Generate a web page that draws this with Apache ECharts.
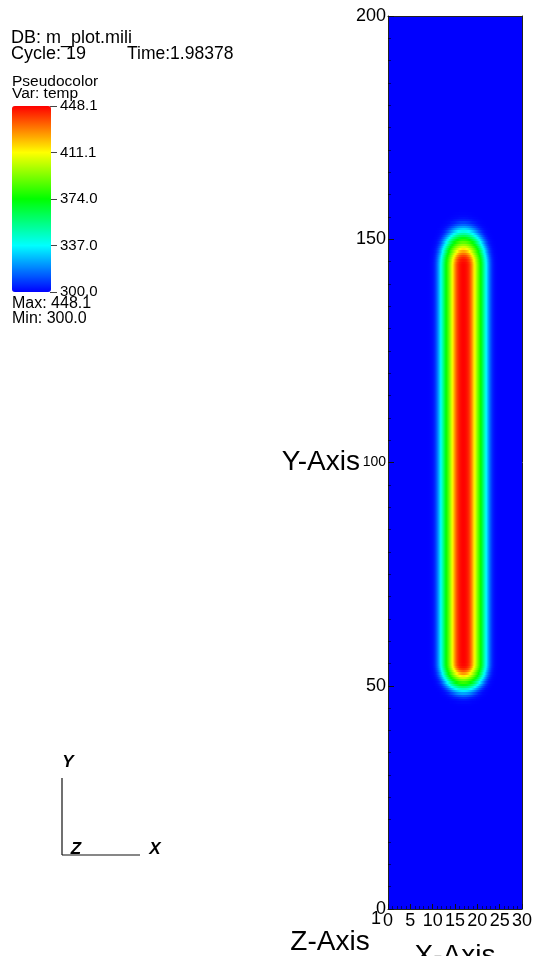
<!DOCTYPE html>
<html>
<head>
<meta charset="utf-8">
<script src="https://cdn.jsdelivr.net/npm/echarts@6/dist/echarts.min.js"></script>
<style>
  html, body { margin: 0; padding: 0; background: #ffffff; }
  #chart { width: 539px; height: 956px; }
</style>
</head>
<body>
<div id="chart"></div>
<script>
// Pseudocolor table for "temp", low -> high
const tempRange = [300.0, 448.1];
const rampColors = ['#0000ff', '#00ffff', '#00ff00', '#ffff00', '#ff0000'];
const legendTickLabels = ['300.0', '337.0', '374.0', '411.1', '448.1'];

// Mesh extent and axis tick spacing
const xExtent = [0, 30];
const yExtent = [0, 200];
const xTickStep = 5;
const yTickStep = 50;

// Cross-section of the heated strip: temperature against distance from its centre line
const profileDist = [0, 0.5, 1.0, 1.5, 2.0, 2.5, 3.0, 3.5, 4.0, 4.5, 5.0, 5.5, 6.0, 6.5, 7.0, 7.5, 8.0];
const profileTemp = [448.1, 447.0, 444.0, 437.0, 425.0, 410.0, 396.0, 383.0, 371.0, 355.0, 339.0, 325.0, 313.0, 305.0, 301.5, 300.4, 300.0];

// Centre line of the strip, where it ends (bottom, top) and how far each end cap spreads along y
const stripCenterX = 16.9;
const stripEndsY = [55.2, 144.1];
const capSpread = [1.25, 1.55];

// Header / legend annotations
const dbName = 'DB: m_plot.mili';
const cycleText = 'Cycle: 19';
const timeText = 'Time:1.98378';
const plotTitle = 'Pseudocolor';
const varText = 'Var: temp';
const maxText = 'Max: 448.1';
const minText = 'Min: 300.0';

const FONT = "'Liberation Sans', Arial, Helvetica, sans-serif";

// ---- field evaluation -------------------------------------------------
function profileAt(d) {
  const n = profileDist.length;
  if (d >= profileDist[n - 1]) return profileTemp[n - 1];
  for (let i = 1; i < n; i++) {
    if (d <= profileDist[i]) {
      const f = (d - profileDist[i - 1]) / (profileDist[i] - profileDist[i - 1]);
      return profileTemp[i - 1] + f * (profileTemp[i] - profileTemp[i - 1]);
    }
  }
  return profileTemp[n - 1];
}

function tempAt(x, y) {
  const dx = x - stripCenterX;
  let dy = 0;
  if (y < stripEndsY[0]) dy = (stripEndsY[0] - y) / capSpread[0];
  else if (y > stripEndsY[1]) dy = (y - stripEndsY[1]) / capSpread[1];
  return profileAt(Math.sqrt(dx * dx + dy * dy));
}

function hexRgb(h) {
  return [parseInt(h.slice(1, 3), 16), parseInt(h.slice(3, 5), 16), parseInt(h.slice(5, 7), 16)];
}
const rampRgb = rampColors.map(hexRgb);

function tempColor(t) {
  let f = (t - tempRange[0]) / (tempRange[1] - tempRange[0]);
  f = Math.min(1, Math.max(0, f));
  const s = f * (rampRgb.length - 1);
  const i = Math.min(Math.floor(s), rampRgb.length - 2);
  const u = s - i;
  const a = rampRgb[i], b = rampRgb[i + 1];
  return 'rgb(' + Math.round(a[0] + (b[0] - a[0]) * u) + ',' +
    Math.round(a[1] + (b[1] - a[1]) * u) + ',' +
    Math.round(a[2] + (b[2] - a[2]) * u) + ')';
}

// Sample the field row by row; each row is drawn as one strip with a horizontal gradient
const rowStep = 0.5;
const colStep = 0.25;
const rows = [];
const fieldTable = [];
for (let y0 = yExtent[0]; y0 < yExtent[1] - 1e-9; y0 += rowStep) {
  rows.push([y0, y0 + rowStep]);
  const yc = y0 + rowStep / 2;
  const line = [];
  for (let x = xExtent[0]; x <= xExtent[1] + 1e-9; x += colStep) line.push(tempAt(x, yc));
  fieldTable.push(line);
}

// ---- chart ------------------------------------------------------------
const chart = echarts.init(document.getElementById('chart'), null, { renderer: 'canvas' });

const txt = (text, x, y, size, extra) => ({
  type: 'text', x: x, y: y, z: 20,
  style: Object.assign({ text: text, fontSize: size, fontFamily: FONT, fill: '#000', align: 'left', verticalAlign: 'middle' }, extra || {})
});

const option = {
  backgroundColor: '#ffffff',
  animation: false,
  grid: [
    { left: 388, top: 16, width: 134, height: 893, outerBoundsMode: 'none', containLabel: false },
    { left: 50, top: 106, width: 1, height: 186, outerBoundsMode: 'none', containLabel: false }
  ],
  xAxis: [
    {
      gridIndex: 0, type: 'value', position: 'bottom',
      min: xExtent[0], max: xExtent[1], interval: xTickStep,
      axisLine: { show: true, onZero: false, lineStyle: { color: '#222', width: 1 } },
      axisTick: { show: true, inside: true, length: 5, lineStyle: { color: '#111' } },
      minorTick: { show: true, splitNumber: 5, length: 3, lineStyle: { color: 'rgba(0,0,0,0.55)' } },
      splitLine: { show: false },
      axisLabel: { margin: 3, fontSize: 18, color: '#000', fontFamily: FONT, hideOverlap: false },
      name: 'X-Axis', nameLocation: 'middle', nameGap: 33,
      nameTextStyle: { fontSize: 28, color: '#000', fontFamily: FONT },
      z: 10
    },
    {
      gridIndex: 0, type: 'value', position: 'top',
      min: xExtent[0], max: xExtent[1], interval: xTickStep,
      axisLine: { show: true, onZero: false, lineStyle: { color: '#222', width: 1 } },
      axisTick: { show: false }, axisLabel: { show: false }, splitLine: { show: false },
      z: 10
    },
    { gridIndex: 1, type: 'value', show: false, min: 0, max: 1 }
  ],
  yAxis: [
    {
      gridIndex: 0, type: 'value', position: 'left',
      min: yExtent[0], max: yExtent[1], interval: yTickStep,
      axisLine: { show: true, onZero: false, lineStyle: { color: '#222', width: 1 } },
      axisTick: { show: true, inside: true, length: 6, lineStyle: { color: '#111' } },
      minorTick: { show: true, splitNumber: 10, length: 3, lineStyle: { color: 'rgba(0,0,0,0.55)' } },
      splitLine: { show: false },
      axisLabel: {
        margin: 2, fontSize: 18, color: '#000', fontFamily: FONT,
        formatter: v => (v === 100 ? '{s|100}' : String(v)),
        rich: { s: { fontSize: 14, fontFamily: FONT, color: '#000' } }
      },
      name: 'Y-Axis', nameLocation: 'middle', nameRotate: 0, nameGap: 28,
      nameMoveOverlap: false,
      nameTextStyle: { fontSize: 28, color: '#000', fontFamily: FONT, padding: [6, 0, 0, 0] },
      z: 10
    },
    {
      gridIndex: 0, type: 'value', position: 'right',
      min: yExtent[0], max: yExtent[1], interval: yTickStep,
      axisLine: { show: true, onZero: false, lineStyle: { color: '#222', width: 1 } },
      axisTick: { show: false }, axisLabel: { show: false }, splitLine: { show: false },
      z: 10
    },
    {
      // tick marks and labels beside the colour bar
      gridIndex: 1, type: 'value', position: 'right',
      min: 0, max: legendTickLabels.length - 1, interval: 1,
      axisLine: { show: false },
      axisTick: { show: true, length: 7, lineStyle: { color: '#444', width: 1 } },
      splitLine: { show: false },
      axisLabel: {
        margin: 9, fontSize: 15, color: '#000', fontFamily: FONT,
        formatter: v => legendTickLabels[Math.round(v)]
      }
    }
  ],
  visualMap: {
    type: 'continuous',
    seriesIndex: [],
    min: tempRange[0], max: tempRange[1],
    inRange: { color: rampColors },
    calculable: false, hoverLink: false,
    left: 12, top: 106, padding: 0,
    itemWidth: 39, itemHeight: 186,
    text: null,
    showLabel: false
  },
  series: [
    {
      type: 'custom',
      xAxisIndex: 0, yAxisIndex: 0,
      clip: true,
      silent: true,
      data: rows,
      encode: { y: [0, 1] },
      renderItem: function (params, api) {
        const y0 = api.value(0), y1 = api.value(1);
        const tl = api.coord([xExtent[0], y1]);
        const br = api.coord([xExtent[1], y0]);
        // snap row edges to whole pixels so neighbouring strips meet without seams
        const top = Math.round(tl[1]);
        const bottom = Math.round(br[1]);
        const temps = fieldTable[params.dataIndex];
        const n = temps.length - 1;
        const stops = temps.map((t, k) => ({ offset: k / n, color: tempColor(t) }));
        return {
          type: 'rect',
          shape: { x: tl[0], y: top, width: br[0] - tl[0], height: Math.max(1, bottom - top) },
          style: { fill: new echarts.graphic.LinearGradient(0, 0, 1, 0, stops) }
        };
      }
    }
  ],
  graphic: [
    txt(dbName, 11, 38, 18),
    txt(cycleText, 11, 54, 18),
    txt(timeText, 127, 54, 17.5),
    txt(plotTitle, 12, 82, 15.5),
    txt(varText, 12, 93.5, 15.5),
    txt(maxText, 12, 304, 16),
    txt(minText, 12, 319, 16),
    txt('Z-Axis', 330, 942, 28, { align: 'center' }),
    txt('1', 376, 919, 18, { align: 'center' }),
    // orientation triad
    { type: 'line', z: 20, shape: { x1: 62, y1: 778, x2: 62, y2: 855 }, style: { stroke: '#111', lineWidth: 1.2 } },
    { type: 'line', z: 20, shape: { x1: 62, y1: 855, x2: 140, y2: 855 }, style: { stroke: '#111', lineWidth: 1.2 } },
    txt('Y', 68, 762, 17, { align: 'center', fontStyle: 'italic', fontWeight: 'bold' }),
    txt('Z', 76, 849, 17, { align: 'center', fontStyle: 'italic', fontWeight: 'bold' }),
    txt('X', 155, 849, 17, { align: 'center', fontStyle: 'italic', fontWeight: 'bold' })
  ]
};

chart.setOption(option);
</script>
</body>
</html>
